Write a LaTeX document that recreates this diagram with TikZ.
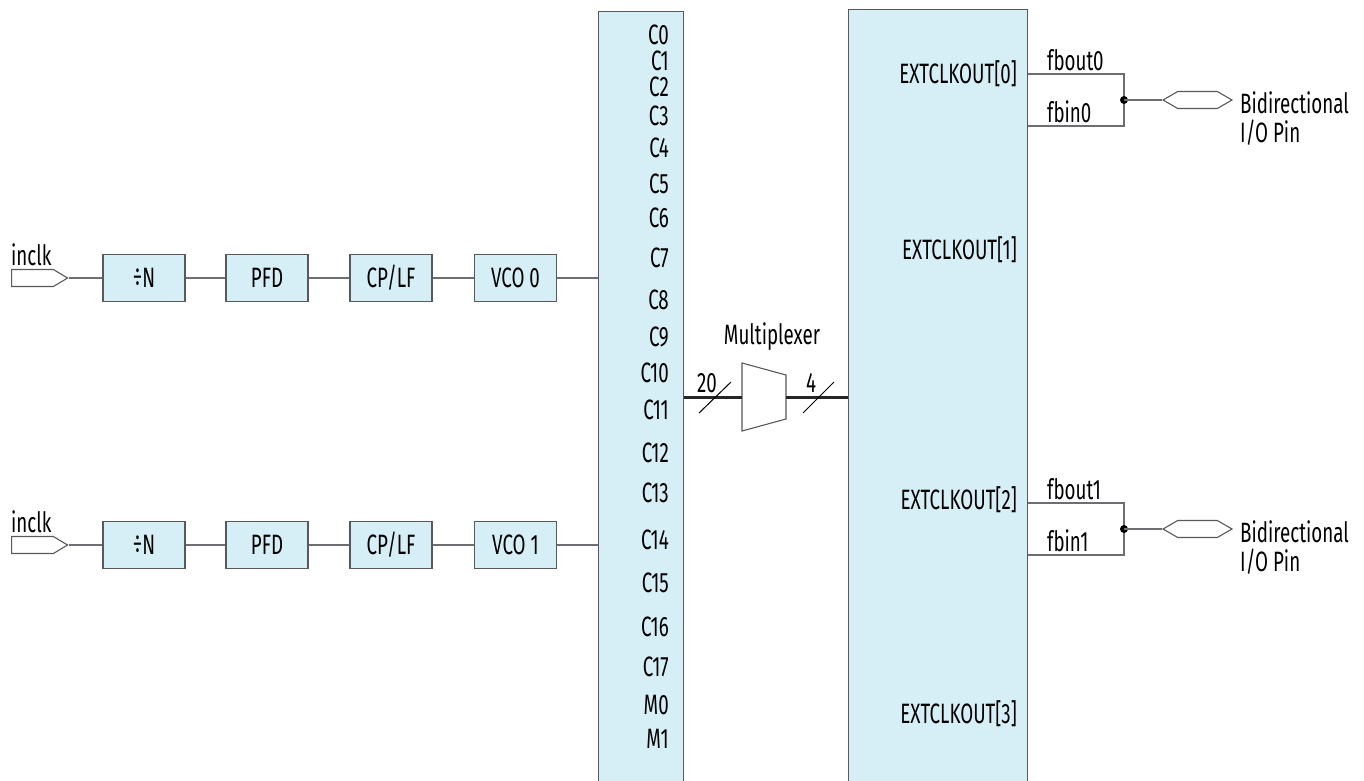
\documentclass[tikz,border=0pt]{standalone}
\usepackage{fontspec}
\setmainfont[FakeStretch=0.67]{Fira Sans}
\usepackage{tikz}
\usetikzlibrary{positioning,shapes.symbols,calc}
\definecolor{pllFill}{HTML}{D6EEF6}
\definecolor{pllLine}{HTML}{58595B}
\definecolor{wireGray}{HTML}{6D6E71}

\begin{document}
\begin{tikzpicture}[
    x=1pt,y=-1pt,
    every node/.style={font=\fontsize{28}{32}\selectfont,inner sep=0pt,text=black},
    blk/.style={rectangle,draw=pllLine,fill=pllFill,line width=1.3pt,
                minimum width=82pt,minimum height=47pt},
    bigblk/.style={rectangle,draw=pllLine,fill=pllFill,line width=1.3pt,
                   anchor=north west,minimum height=820pt},
    wire/.style={draw=wireGray,line width=1.3pt},
    bus/.style={draw=black!85,line width=3pt},
    inpin/.style={signal,signal to=east,signal pointer angle=62,draw=pllLine,
                  fill=white,line width=1.1pt,minimum width=56pt,minimum height=17pt},
    biopin/.style={signal,signal to=east and west,signal pointer angle=60,draw=pllLine,
                   fill=white,line width=1.1pt,minimum width=69pt,minimum height=17pt},
    dot/.style={circle,fill=black,minimum size=8pt}
  ]
  \useasboundingbox (0,0) rectangle (1364,780);
  \clip (0,0) rectangle (1364,780);

  % big blocks
  \node[bigblk,minimum width=85pt]  (cnt) at (598,11) {};
  \node[bigblk,minimum width=179pt] (ext) at (848,9) {};

  % two PLL chains
  \foreach \i/\yy in {0/278,1/545} {
    \node[inpin,anchor=west] (pin\i) at (11,\yy) {};
    \node[anchor=south west] at (11,\yy-12) {inclk};
    \node[blk] (div\i)  at (144,\yy) {\raisebox{1pt}{÷}N};
    \node[blk] (pfd\i)  at (267,\yy) {PFD};
    \node[blk] (cplf\i) at (391,\yy) {CP/LF};
    \node[blk] (vco\i)  at (515.5,\yy) {VCO \i};
    \draw[wire] (pin\i.east) -- (div\i);
    \draw[wire] (div\i) -- (pfd\i);
    \draw[wire] (pfd\i) -- (cplf\i);
    \draw[wire] (cplf\i) -- (vco\i);
    \draw[wire] (vco\i.east) -- (vco\i.east -| cnt.west);
  }

  % counter outputs
  \foreach \lbl/\yy in {C0/35,C1/61,C2/87,C3/116,C4/148,C5/184,C6/218,C7/258,
                        C8/300,C9/337,C10/373,C11/410,C12/453,C13/493,C14/540,
                        C15/583,C16/627,C17/667,M0/705,M1/739}
    \node[anchor=east] (c\lbl) at (669,\yy) {\lbl};

  % multiplexer
  \coordinate (muxin)  at (742,397);
  \coordinate (muxout) at (786,397);
  \draw[draw=pllLine,line width=1.1pt,fill=white]
    (742,363) -- (786,375) -- (786,419) -- (742,431) -- cycle;
  \node (muxlab) at (772,337) {Multiplexer};
  \draw[bus] (cnt.east |- muxin) -- (muxin);
  \draw[bus] (muxout) -- (ext.west |- muxout);
  \draw[line width=1pt] (699,413) -- (731,382);
  \draw[line width=1pt] (803,413) -- (834,382);
  \node (w20) at (707,383) {20};
  \node (w4)  at (811,383) {4};

  % external clock outputs
  \foreach \k/\yy in {0/74,1/250,2/500,3/714}
    \node[anchor=east] (eco\k) at (1017,\yy) {EXTCLKOUT[\k]};

  % feedback pins
  \foreach \k/\ya/\yb in {0/74/126,1/503/555} {
    \coordinate (jn\k) at (1124,{(\ya+\yb)/2});
    \draw[wire] (ext.east |- 0,\ya) -| (jn\k) |- (ext.east |- 0,\yb);
    \node[dot] (dot\k) at (jn\k) {};
    \node[biopin] (bio\k) at (1197.5,{(\ya+\yb)/2}) {};
    \draw[wire] (jn\k) -- (bio\k.west);
    \node[anchor=west] (fbo\k) at (1047,\ya-14) {fbout\k};
    \node[anchor=west] (fbi\k) at (1047,\yb-14) {fbin\k};
    \node[anchor=west] (bdl\k) at (1240,{(\ya+\yb)/2+3}) {Bidirectional};
    \node[anchor=west] (iop\k) at (1240,{(\ya+\yb)/2+33}) {I/O Pin};
  }
\end{tikzpicture}
\end{document}
